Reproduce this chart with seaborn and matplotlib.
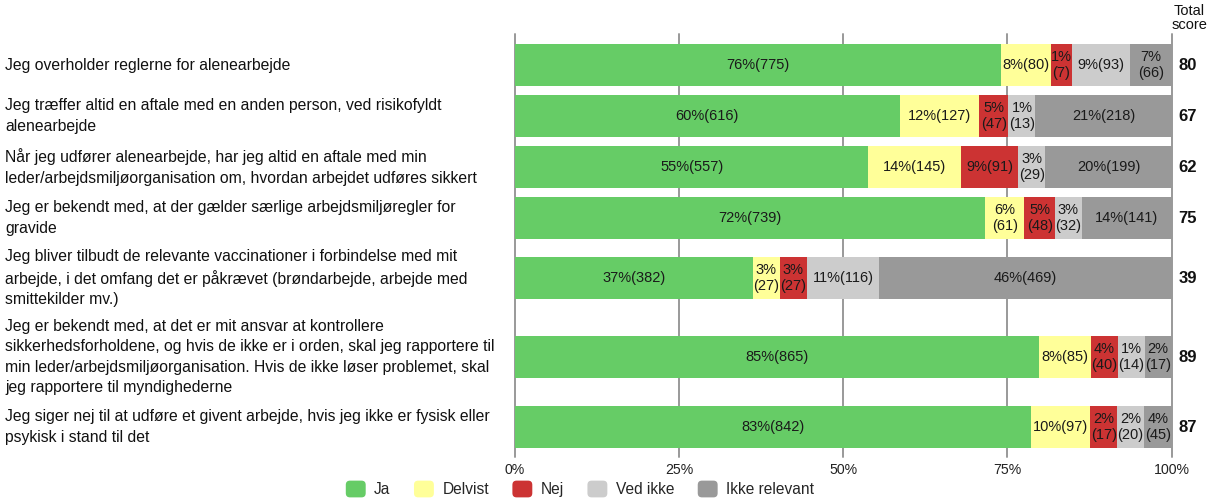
import numpy as np
import pandas as pd
import seaborn as sns
import matplotlib.pyplot as plt
import matplotlib.transforms as mtransforms
from matplotlib.patches import Patch, FancyBboxPatch
from matplotlib.legend_handler import HandlerPatch

# data
questions = [
    "Jeg overholder reglerne for alenearbejde",
    "Jeg træffer altid en aftale med en anden person, ved risikofyldt\nalenearbejde",
    "Når jeg udfører alenearbejde, har jeg altid en aftale med min\n"
    "leder/arbejdsmiljøorganisation om, hvordan arbejdet udføres sikkert",
    "Jeg er bekendt med, at der gælder særlige arbejdsmiljøregler for\ngravide",
    "Jeg bliver tilbudt de relevante vaccinationer i forbindelse med mit\n"
    "arbejde, i det omfang det er påkrævet (brøndarbejde, arbejde med\n"
    "smittekilder mv.)",
    "Jeg er bekendt med, at det er mit ansvar at kontrollere\n"
    "sikkerhedsforholdene, og hvis de ikke er i orden, skal jeg rapportere til\n"
    "min leder/arbejdsmiljøorganisation. Hvis de ikke løser problemet, skal\n"
    "jeg rapportere til myndighederne",
    "Jeg siger nej til at udføre et givent arbejde, hvis jeg ikke er fysisk eller\n"
    "psykisk i stand til det",
]
categories = ["Ja", "Delvist", "Nej", "Ved ikke", "Ikke relevant"]
colors = ["#66CC66", "#FFFF99", "#CC3333", "#CCCCCC", "#999999"]

ja = [775, 616, 557, 739, 382, 865, 842]
delvist = [80, 127, 145, 61, 27, 85, 97]
nej = [7, 47, 91, 48, 27, 40, 17]
ved_ikke = [93, 13, 29, 32, 116, 14, 20]
ikke_relevant = [66, 218, 199, 141, 469, 17, 45]

ja_pct = [76, 60, 55, 72, 37, 85, 83]
delvist_pct = [8, 12, 14, 6, 3, 8, 10]
nej_pct = [1, 5, 9, 5, 3, 4, 2]
ved_ikke_pct = [9, 1, 3, 3, 11, 1, 2]
ikke_relevant_pct = [7, 21, 20, 14, 46, 2, 4]

total_score = [80, 67, 62, 75, 39, 89, 87]

counts = np.array([ja, delvist, nej, ved_ikke, ikke_relevant], dtype=float).T
pcts = np.array([ja_pct, delvist_pct, nej_pct, ved_ikke_pct, ikke_relevant_pct]).T


def display_shares(row):
    # small segments get a minimum width so their label fits
    share = row / row.sum()
    min_w = 0.023 + 0.009 * np.array([len(str(int(v))) for v in row])
    fixed = share < min_w
    w = share
    for _ in range(5):
        rest = 1 - min_w[fixed].sum()
        w = np.where(fixed, min_w, share * rest / share[~fixed].sum())
        new_fixed = fixed | (w < min_w)
        if (new_fixed == fixed).all():
            break
        fixed = new_fixed
    return w


widths = np.array([display_shares(r) for r in counts])
cum = np.cumsum(widths, axis=1)

# row positions (pixel-like units, taller rows for long labels)
n_lines = [q.count("\n") + 1 for q in questions]
slot = np.array([max(51, 20 * n + 9) for n in n_lines], dtype=float)
edges = 39.5 + np.concatenate([[0], np.cumsum(slot)])
ypos = edges[:-1] + slot / 2

sns.set_theme(style="white")
plt.rcParams["font.family"] = ["Liberation Sans", "DejaVu Sans"]

fig = plt.figure(figsize=(12.09, 5.01), dpi=100)
ax = fig.add_axes([514.7 / 1209, 1 - 457 / 501, 657 / 1209, 423 / 501])

for x in [0, 0.25, 0.5, 0.75, 1]:
    ax.axvline(x, color="#999999", lw=1.4, zorder=0, clip_on=False)

df = pd.DataFrame({"y": ypos})
for k in reversed(range(5)):
    df["x"] = cum[:, k]
    sns.barplot(data=df, x="x", y="y", orient="y", native_scale=True,
                color=colors[k], saturation=1, width=42 / 51, errorbar=None,
                linewidth=0, ax=ax, zorder=2)

ax.set_xlim(0, 1)
ax.set_ylim(457, 34)
ax.set_xlabel("")
ax.set_ylabel("")
ax.set_yticks([])
ax.set_xticks([0, 0.25, 0.5, 0.75, 1])
ax.set_xticklabels(["0%", "25%", "50%", "75%", "100%"])
ax.tick_params(axis="x", length=0, pad=4, labelsize=10.2, colors="#222222")
for s in ax.spines.values():
    s.set_visible(False)

# segment labels
renderer = fig.canvas.get_renderer()
ax_px = ax.get_window_extent(renderer).width
for i in range(len(questions)):
    for k in range(5):
        w = widths[i, k]
        left = cum[i, k] - w
        t = ax.text(left + w / 2, ypos[i], f"{pcts[i, k]}%({int(counts[i, k])})",
                    ha="center", va="center", fontsize=10.5, color="#1a1a1a",
                    linespacing=1.25, zorder=3)
        if t.get_window_extent(renderer).width > w * ax_px:
            t.set_text(f"{pcts[i, k]}%\n({int(counts[i, k])})")

# question labels and total score
trans = mtransforms.blended_transform_factory(fig.transFigure, ax.transData)
trans_ax = mtransforms.blended_transform_factory(ax.transAxes, ax.transData)
for i, q in enumerate(questions):
    fig.text(5 / 1209, ypos[i], q, transform=trans, ha="left", va="center",
             fontsize=11.3, linespacing=1.44, color="#111111")
    ax.text(1.0248, ypos[i], str(total_score[i]), transform=trans_ax,
            ha="center", va="center", fontsize=12, fontweight="bold",
            color="#111111")
fig.text(1189 / 1209, 1 - 18 / 501, "Total\nscore", ha="center", va="center",
         fontsize=10.5, linespacing=1.05, color="#111111")


class RoundHandler(HandlerPatch):
    def create_artists(self, legend, orig_handle, xdescent, ydescent,
                       width, height, fontsize, trans):
        p = FancyBboxPatch((-xdescent, -ydescent), width, height,
                           boxstyle=f"round,pad=0,rounding_size={height * 0.25}",
                           facecolor=orig_handle.get_facecolor(),
                           edgecolor="none", transform=trans)
        return [p]


handles = [Patch(facecolor=c, label=l) for c, l in zip(colors, categories)]
fig.legend(handles=handles, handler_map={Patch: RoundHandler()}, loc="center",
           bbox_to_anchor=(580 / 1209, 1 - 489 / 501), ncol=5, frameon=False,
           fontsize=11.2, handlelength=1.28, handleheight=1.28,
           handletextpad=0.55, columnspacing=1.5)

fig.savefig("out.png", dpi=100)
